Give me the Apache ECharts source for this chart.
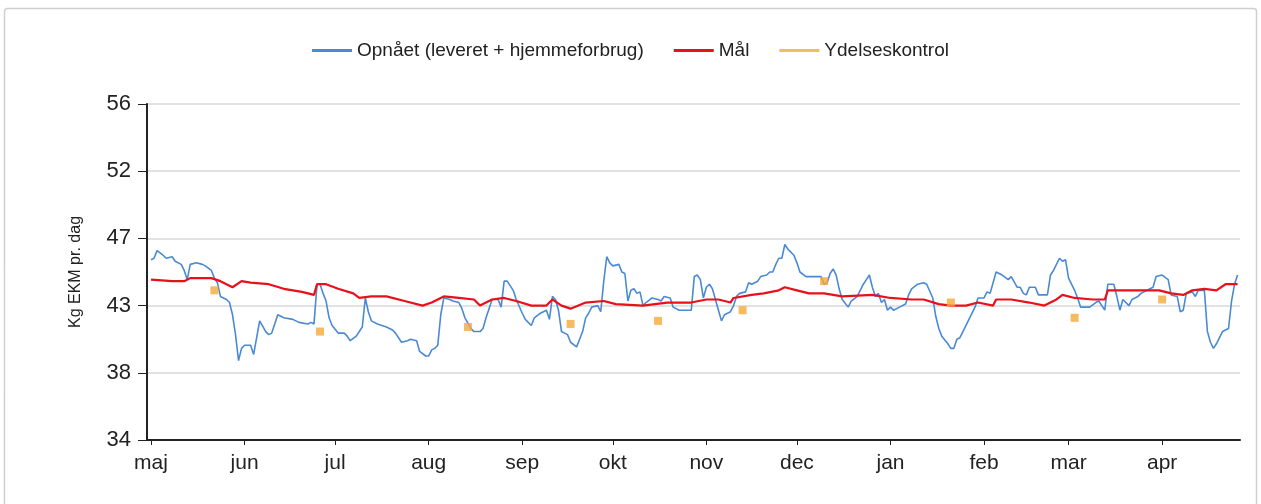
<!DOCTYPE html>
<html>
<head>
<meta charset="utf-8">
<script src="https://cdn.jsdelivr.net/npm/echarts@6/dist/echarts.min.js"></script>
<style>
  html, body { margin: 0; padding: 0; background: #fff; }
  #chart { width: 1261px; height: 504px; }
</style>
</head>
<body>
<div id="chart"></div>
<script>
var startDate = new Date(2014, 4, 1);   // 1. maj
var monthNames = ['jan', 'feb', 'mar', 'apr', 'maj', 'jun', 'jul', 'aug', 'sep', 'okt', 'nov', 'dec'];

// y-akse
var yMin = 34, yMax = 56, yStep = 4.4;

// Opnået (leveret + hjemmeforbrug) - dage efter 1. maj
var opnaaetDays = [0,1,2,4,5,7,8,10,11,12,13,15,17,18,20,21,22,23,25,26,27,28,29,30,31,33,34,36,38,39,40,42,44,47,49,52,53,54,55,56,57,58,59,60,62,64,65,66,68,70,71,72,73,75,78,80,81,83,85,86,88,89,91,92,93,94,95,96,97,99,100,102,103,104,106,107,109,110,111,112,113,115,116,117,118,120,121,123,124,126,127,129,131,132,133,134,135,136,138,139,141,142,143,144,145,146,148,149,150,151,152,153,155,156,157,158,159,160,161,162,163,164,166,168,169,170,172,173,175,179,180,181,182,183,184,185,186,187,188,189,190,192,193,194,195,197,198,199,201,202,204,205,206,207,208,209,210,211,213,214,215,217,219,222,223,224,225,226,227,228,229,231,232,234,236,237,238,239,240,241,242,243,244,245,246,248,250,251,252,254,256,257,259,260,261,262,264,265,266,267,268,269,271,273,274,276,277,278,279,280,282,284,285,287,288,289,290,291,293,294,297,298,299,301,302,303,304,306,307,308,311,313,314,316,317,319,320,321,322,324,325,327,328,330,332,333,335,337,338,340,341,342,343,345,346,347,349,350,351,352,353,355,357,358,359,360];
var opnaaetValues = [45.8,45.9,46.4,46.1,45.9,46.0,45.7,45.5,45.1,44.5,45.5,45.6,45.5,45.4,45.1,44.6,44.3,43.4,43.2,43.0,42.2,40.9,39.2,40.0,40.2,40.2,39.6,41.8,41.1,40.9,41.0,42.2,42.0,41.9,41.7,41.6,41.7,41.6,44.2,44.2,43.6,43.1,42.0,41.5,41.0,41.0,40.8,40.5,40.8,41.4,43.3,42.4,41.8,41.6,41.4,41.2,41.0,40.4,40.5,40.6,40.5,39.8,39.5,39.5,39.9,40.0,40.2,42.2,43.3,43.2,43.1,43.0,42.6,42.0,41.3,41.1,41.1,41.3,42.0,42.6,43.2,43.2,42.7,44.4,44.4,43.8,43.2,42.3,41.9,41.5,42.0,42.3,42.5,41.9,43.4,43.2,42.5,41.1,40.9,40.4,40.1,40.6,41.1,42.0,42.3,42.7,42.8,42.4,44.4,46.0,45.6,45.4,45.5,45.0,44.9,43.1,43.8,43.9,43.6,43.7,42.8,43.0,43.3,43.2,43.1,43.4,43.3,42.7,42.5,42.5,44.7,44.8,44.5,43.3,44.0,44.2,43.9,43.2,42.5,41.8,42.2,42.4,42.8,43.4,43.6,43.7,44.3,44.2,44.4,44.7,44.8,45.0,45.0,45.5,45.9,45.9,46.8,46.5,46.1,45.6,45.0,44.7,44.7,44.7,44.2,44.3,44.9,45.2,44.8,43.9,43.2,42.7,43.1,43.4,44.2,44.5,44.8,44.0,43.4,43.6,43.0,43.2,42.5,42.7,42.5,42.7,42.9,43.5,43.9,44.2,44.3,44.2,43.3,42.1,41.3,40.8,40.3,40.0,40.0,40.6,40.7,41.1,41.9,42.7,43.3,43.3,43.7,43.6,44.3,45.0,44.8,44.5,44.7,44.0,44.0,43.6,43.5,44.0,44.0,43.5,43.5,44.8,45.1,45.9,45.7,45.8,44.6,43.8,43.3,42.7,42.7,43.0,43.1,42.5,44.2,44.2,43.4,42.5,43.2,42.8,43.2,43.4,43.6,43.8,44.0,44.7,44.8,44.5,43.5,43.4,42.4,42.5,43.6,43.7,43.4,43.8,43.8,41.1,40.4,40.0,40.3,41.1,41.3,43.1,44.2,44.8];

// Mål
var maalDays = [0,7,11,13,20,23,27,30,33,39,44,50,54,55,58,62,67,69,73,78,84,90,93,97,102,107,109,113,117,121,126,131,133,136,139,144,150,154,163,171,179,184,188,192,193,199,203,208,210,214,218,223,229,239,245,252,256,261,265,270,274,279,280,285,291,296,300,302,306,312,316,317,323,334,338,342,345,349,353,356,360];
var maalValues = [44.5,44.4,44.4,44.6,44.6,44.4,44.0,44.4,44.3,44.2,43.9,43.7,43.5,44.2,44.2,43.9,43.6,43.3,43.4,43.4,43.1,42.8,43.0,43.4,43.3,43.2,42.8,43.2,43.3,43.1,42.8,42.8,43.2,42.8,42.6,43.0,43.1,42.9,42.8,43.0,43.0,43.2,43.2,43.0,43.3,43.5,43.6,43.8,44.0,43.8,43.6,43.6,43.4,43.5,43.3,43.2,43.2,42.9,42.8,42.8,43.0,42.8,43.2,43.2,43.0,42.8,43.2,43.5,43.3,43.2,43.2,43.8,43.8,43.8,43.6,43.5,43.8,43.9,43.8,44.2,44.2];

// Ydelseskontrol
var kontrolDays = [21,56,105,139,168,196,223,265,306,335];
var kontrolValues = [43.8,41.1,41.4,41.6,41.8,42.5,44.4,43.0,42.0,43.2];

var DAY = 86400000;
function toDate(d) {
  return new Date(startDate.getFullYear(), startDate.getMonth(), startDate.getDate() + d).getTime();
}
function pairs(days, values) {
  var out = [];
  for (var i = 0; i < days.length; i++) {
    out.push([toDate(days[i]), values[i]]);
  }
  return out;
}

var chart = echarts.init(document.getElementById('chart'));

var option = {
  animation: false,
  textStyle: { fontFamily: 'Liberation Sans, Arial, sans-serif' },
  graphic: [{
    type: 'rect',
    shape: { x: 4.5, y: 8.5, width: 1252, height: 520, r: 3 },
    style: { fill: 'none', stroke: '#cfcfcf', lineWidth: 1.5 },
    silent: true
  }],
  legend: {
    top: 36,
    left: 'center',
    icon: 'rect',
    itemWidth: 40,
    itemHeight: 3,
    itemGap: 30,
    textStyle: { fontSize: 19, color: '#222' },
    data: ['Opnået (leveret + hjemmeforbrug)', 'Mål', 'Ydelseskontrol']
  },
  grid: {
    left: 147,
    right: 21,
    top: 104,
    bottom: 64
  },
  xAxis: {
    type: 'time',
    min: startDate.getTime() - 1.33 * DAY,
    max: startDate.getTime() + 360.8 * DAY,
    splitNumber: 12,
    minInterval: 28 * DAY,
    maxInterval: 31 * DAY,
    axisLine: { lineStyle: { color: '#222', width: 2 } },
    axisTick: { show: true, length: 5, lineStyle: { color: '#222' } },
    splitLine: { show: false },
    axisLabel: {
      fontSize: 21,
      color: '#222',
      margin: 13,
      formatter: function (v) {
        return monthNames[new Date(v).getMonth()];
      }
    }
  },
  yAxis: {
    type: 'value',
    min: yMin,
    max: yMax,
    interval: yStep,
    name: 'Kg EKM pr. dag',
    nameLocation: 'middle',
    nameGap: 63,
    nameTextStyle: { fontSize: 16, color: '#222' },
    axisLine: { show: true, lineStyle: { color: '#222', width: 2 } },
    axisTick: { show: true, length: 9, lineStyle: { color: '#222' } },
    splitLine: { show: true, lineStyle: { color: '#d8d8d8', width: 1.5 } },
    axisLabel: {
      fontSize: 22,
      color: '#222',
      margin: 16,
      formatter: function (v) { return Math.round(v); }
    }
  },
  series: [
    {
      name: 'Opnået (leveret + hjemmeforbrug)',
      type: 'line',
      data: pairs(opnaaetDays, opnaaetValues),
      showSymbol: false,
      symbol: 'none',
      color: '#4a8ad4',
      lineStyle: { width: 1.6, color: '#4a8ad4' },
      z: 2
    },
    {
      name: 'Mål',
      type: 'line',
      data: pairs(maalDays, maalValues),
      showSymbol: false,
      symbol: 'none',
      color: '#e8101a',
      lineStyle: { width: 2.2, color: '#e8101a' },
      z: 3
    },
    {
      name: 'Ydelseskontrol',
      type: 'scatter',
      data: pairs(kontrolDays, kontrolValues),
      symbol: 'rect',
      symbolSize: 8,
      color: '#f4a93a',
      itemStyle: { color: '#f4a93a' },
      z: 4
    }
  ]
};

chart.setOption(option);
</script>
</body>
</html>
